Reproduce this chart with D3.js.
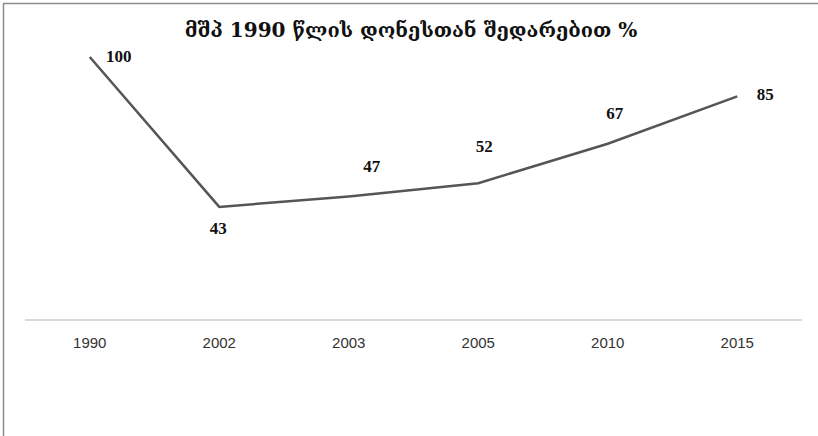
<!DOCTYPE html>
<html>
<head>
<meta charset="utf-8">
<script src="https://cdn.jsdelivr.net/npm/d3@7"></script>
<style>
  body { margin: 0; background: #fff; }
</style>
</head>
<body>
<div id="chart"></div>
<script>
const years = ["1990", "2002", "2003", "2005", "2010", "2015"];
const gdp = [100, 43, 47, 52, 67, 85];
const chartTitle = "მშპ 1990 წლის დონესთან შედარებით %";

// label nudges [dx, dy] from each point, as the original places them
const labelNudge = [[29, 5], [-1, 27], [23, -24], [6, -31], [7, -25], [28, 4]];

var W = 818, H = 436;
var svg = d3.select("#chart").append("svg")
  .attr("width", W)
  .attr("height", H);

// frame: only top and left edges show
svg.append("line").attr("x1", 3).attr("x2", W).attr("y1", 3.5).attr("y2", 3.5)
  .attr("stroke", "#8c8c8c").attr("stroke-width", 1.5);
svg.append("line").attr("x1", 3.5).attr("x2", 3.5).attr("y1", 3).attr("y2", H)
  .attr("stroke", "#8c8c8c").attr("stroke-width", 1.5);

var x = d3.scaleBand()
  .domain(years)
  .range([25, 802]);

var y = d3.scaleLinear()
  .domain([0, 100])
  .range([320, 57]);

// axis baseline
svg.append("line")
  .attr("x1", x.range()[0]).attr("x2", x.range()[1])
  .attr("y1", y(0)).attr("y2", y(0))
  .attr("stroke", "#d9d9d9").attr("stroke-width", 2);

var xAxis = svg.append("g")
  .attr("transform", "translate(0," + y(0) + ")")
  .call(d3.axisBottom(x).tickSize(0).tickPadding(17));
xAxis.select(".domain").remove();
xAxis.selectAll("text")
  .style("font-family", "'Liberation Sans', sans-serif")
  .style("font-size", "15px")
  .style("fill", "#333");

var pts = years.map(function(d, i) { return { year: d, value: gdp[i], nudge: labelNudge[i] }; });

var line = d3.line()
  .x(function(d) { return x(d.year) + x.bandwidth() / 2; })
  .y(function(d) { return y(d.value); });

svg.append("path")
  .datum(pts)
  .attr("fill", "none")
  .attr("stroke", "#555")
  .attr("stroke-width", 2.5)
  .attr("d", line);

svg.selectAll(".val")
  .data(pts)
  .enter()
  .append("text")
  .attr("class", "val")
  .attr("x", function(d) { return x(d.year) + x.bandwidth() / 2 + d.nudge[0]; })
  .attr("y", function(d) { return y(d.value) + d.nudge[1]; })
  .attr("text-anchor", "middle")
  .style("font-family", "'Liberation Serif', serif")
  .style("font-weight", "bold")
  .style("font-size", "17px")
  .style("fill", "#111")
  .text(function(d) { return d.value; });

svg.append("text")
  .attr("x", 411)
  .attr("y", 37)
  .attr("text-anchor", "middle")
  .style("font-family", "'DejaVu Serif', serif")
  .style("font-weight", "bold")
  .style("font-size", "20px")
  .style("fill", "#111")
  .text(chartTitle);
</script>
</body>
</html>
